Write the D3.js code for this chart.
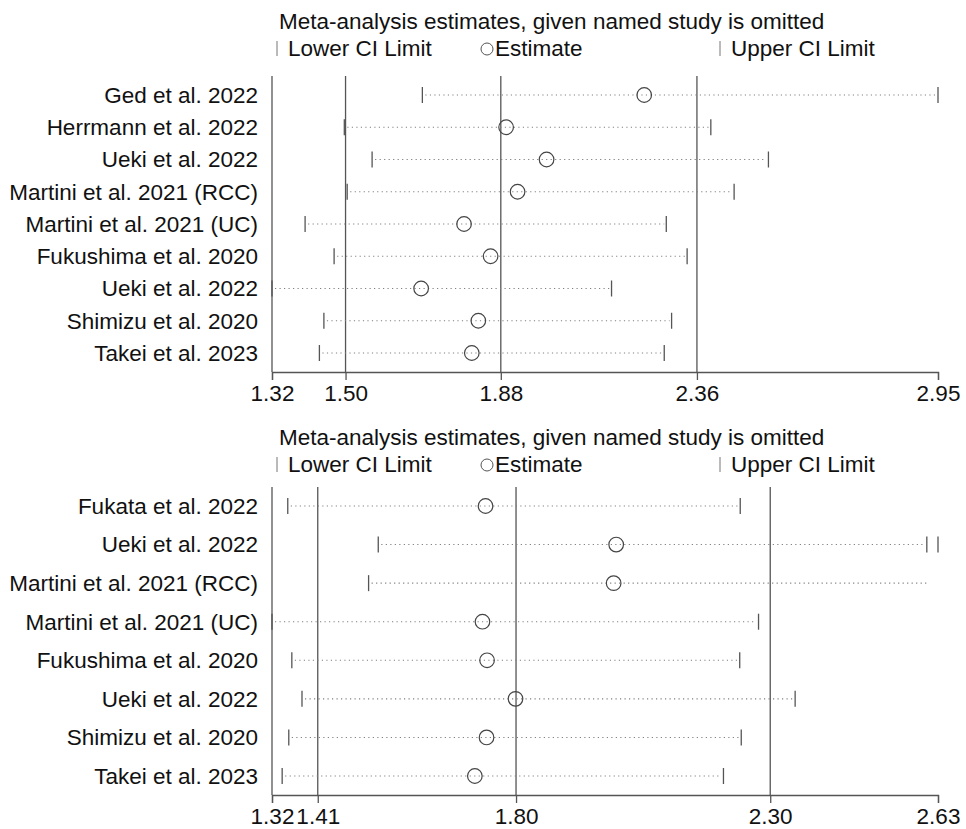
<!DOCTYPE html>
<html>
<head>
<meta charset="utf-8">
<script src="https://cdn.jsdelivr.net/npm/d3@7"></script>
<style>
  html, body { margin: 0; padding: 0; background: #fff; }
  svg { display: block; }
  text { font-family: "Liberation Sans", Arial, sans-serif; fill: #111; }
</style>
</head>
<body>
<svg id="chart" width="966" height="829"></svg>
<script>
// ---------------- DATA ----------------
const panelTitle = "Meta-analysis estimates, given named study is omitted";
const legendLabels = ["Lower CI Limit", "Estimate", "Upper CI Limit"];

// Top panel
const topStudies = [
  "Ged et al. 2022",
  "Herrmann et al. 2022",
  "Ueki et al. 2022",
  "Martini et al. 2021 (RCC)",
  "Martini et al. 2021 (UC)",
  "Fukushima et al. 2020",
  "Ueki et al. 2022",
  "Shimizu et al. 2020",
  "Takei et al. 2023"
];
const topLower    = [1.688, 1.497, 1.565, 1.504, 1.401, 1.472, 1.320, 1.447, 1.436];
const topEstimate = [2.231, 1.893, 1.992, 1.921, 1.790, 1.855, 1.685, 1.825, 1.809];
const topUpper    = [2.950, 2.394, 2.535, 2.451, 2.285, 2.336, 2.151, 2.298, 2.280];
const topTicks    = [1.32, 1.50, 1.88, 2.36, 2.95];
const topTickLabels = ["1.32", "1.50", "1.88", "2.36", "2.95"];
const topRefLines = [1.50, 1.88, 2.36];

// Bottom panel
const bottomStudies = [
  "Fukata et al. 2022",
  "Ueki et al. 2022",
  "Martini et al. 2021 (RCC)",
  "Martini et al. 2021 (UC)",
  "Fukushima et al. 2020",
  "Ueki et al. 2022",
  "Shimizu et al. 2020",
  "Takei et al. 2023"
];
const bottomLower    = [1.351, 1.529, 1.510, 1.320, 1.359, 1.379, 1.353, 1.340];
const bottomEstimate = [1.740, 1.997, 1.992, 1.734, 1.743, 1.799, 1.742, 1.719];
const bottomUpper    = [2.241, 2.608, 2.617, 2.277, 2.240, 2.349, 2.243, 2.208];
// upper-limit markers as drawn in the original (row 2 has a second marker, row 3 none)
const bottomUpperMarks = [[2.241], [2.608, 2.63], [], [2.277], [2.240], [2.349], [2.243], [2.208]];
const bottomTicks    = [1.32, 1.41, 1.80, 2.30, 2.63];
const bottomTickLabels = ["1.32", "1.41", "1.80", "2.30", "2.63"];
const bottomRefLines = [1.41, 1.80, 2.30];

// ---------------- DRAW ----------------
const svg = d3.select("#chart");
svg.append("rect").attr("width", 966).attr("height", 829).attr("fill", "#fff");

const FONT = 22.5;
const AXIS_COL = "#555";
const xLeft = 272, xRight = 938;

function panel(cfg) {
  const g = svg.append("g");
  const x = d3.scaleLinear().domain([cfg.ticks[0], cfg.ticks[cfg.ticks.length - 1]]).range([xLeft, xRight]);
  const idx = d3.range(cfg.studies.length);
  const y = d3.scalePoint().domain(idx).range([cfg.top + 19, cfg.axisY - 19]);

  // title + legend
  g.append("text").attr("x", 279).attr("y", cfg.titleY).attr("font-size", FONT).text(panelTitle);
  const ly = cfg.legendY;
  g.append("line").attr("x1", 277).attr("x2", 277).attr("y1", ly - 15).attr("y2", ly)
    .attr("stroke", "#777").attr("stroke-width", 1);
  g.append("text").attr("x", 288).attr("y", ly).attr("font-size", FONT).text(legendLabels[0]);
  g.append("circle").attr("cx", 487).attr("cy", ly - 7).attr("r", 6)
    .attr("fill", "none").attr("stroke", "#555").attr("stroke-width", 1);
  g.append("text").attr("x", 495).attr("y", ly).attr("font-size", FONT).text(legendLabels[1]);
  g.append("line").attr("x1", 720).attr("x2", 720).attr("y1", ly - 15).attr("y2", ly)
    .attr("stroke", "#777").attr("stroke-width", 1);
  g.append("text").attr("x", 731).attr("y", ly).attr("font-size", FONT).text(legendLabels[2]);

  // reference lines (vertical)
  g.selectAll("line.ref").data(cfg.refLines).join("line").attr("class", "ref")
    .attr("x1", d => x(d)).attr("x2", d => x(d))
    .attr("y1", cfg.top).attr("y2", cfg.axisY)
    .attr("stroke", AXIS_COL).attr("stroke-width", 1.3);
  // left axis line
  g.append("line").attr("x1", xLeft).attr("x2", xLeft).attr("y1", cfg.top).attr("y2", cfg.axisY)
    .attr("stroke", AXIS_COL).attr("stroke-width", 1.3);

  // x axis
  const axis = d3.axisBottom(x).tickValues(cfg.ticks).tickSize(8).tickPadding(5)
    .tickFormat((d, i) => cfg.tickLabels[i]);
  const ag = g.append("g").attr("transform", `translate(0,${cfg.axisY})`).call(axis);
  ag.select(".domain").attr("stroke", AXIS_COL).attr("stroke-width", 1.3);
  ag.selectAll(".tick line").attr("stroke", AXIS_COL).attr("stroke-width", 1.3);
  ag.selectAll(".tick text").attr("font-size", FONT).attr("fill", "#111")
    .attr("font-family", "'Liberation Sans', Arial, sans-serif");

  // study labels
  g.selectAll("text.study").data(cfg.studies).join("text").attr("class", "study")
    .attr("x", 258).attr("y", (d, i) => y(i)).attr("dy", "0.35em")
    .attr("text-anchor", "end").attr("font-size", FONT).text(d => d);

  // dotted CI lines
  g.selectAll("line.ci").data(idx).join("line").attr("class", "ci")
    .attr("x1", i => x(cfg.lower[i]) + 3).attr("x2", i => x(cfg.upper[i]) - 2)
    .attr("y1", i => y(i)).attr("y2", i => y(i))
    .attr("stroke", "#808080").attr("stroke-width", 1.1).attr("stroke-dasharray", "1.2,3.3");

  // lower limit markers
  g.selectAll("line.lo").data(idx).join("line").attr("class", "lo")
    .attr("x1", i => x(cfg.lower[i])).attr("x2", i => x(cfg.lower[i]))
    .attr("y1", i => y(i) - 8).attr("y2", i => y(i) + 8)
    .attr("stroke", "#555").attr("stroke-width", 1.3);

  // upper limit markers
  const ups = [];
  cfg.upperMarks.forEach((arr, i) => arr.forEach(v => ups.push({ i, v })));
  g.selectAll("line.up").data(ups).join("line").attr("class", "up")
    .attr("x1", d => x(d.v)).attr("x2", d => x(d.v))
    .attr("y1", d => y(d.i) - 8).attr("y2", d => y(d.i) + 8)
    .attr("stroke", "#555").attr("stroke-width", 1.3);

  // estimates
  g.selectAll("circle.est").data(idx).join("circle").attr("class", "est")
    .attr("cx", i => x(cfg.est[i])).attr("cy", i => y(i)).attr("r", 7.3)
    .attr("fill", "none").attr("stroke", "#444").attr("stroke-width", 1.2);
}

panel({
  studies: topStudies, lower: topLower, est: topEstimate, upper: topUpper,
  upperMarks: topUpper.map(v => [v]),
  ticks: topTicks, tickLabels: topTickLabels, refLines: topRefLines,
  titleY: 29, legendY: 56, top: 76, axisY: 372
});
panel({
  studies: bottomStudies, lower: bottomLower, est: bottomEstimate, upper: bottomUpper,
  upperMarks: bottomUpperMarks,
  ticks: bottomTicks, tickLabels: bottomTickLabels, refLines: bottomRefLines,
  titleY: 445, legendY: 472, top: 487, axisY: 795
});
</script>
</body>
</html>
